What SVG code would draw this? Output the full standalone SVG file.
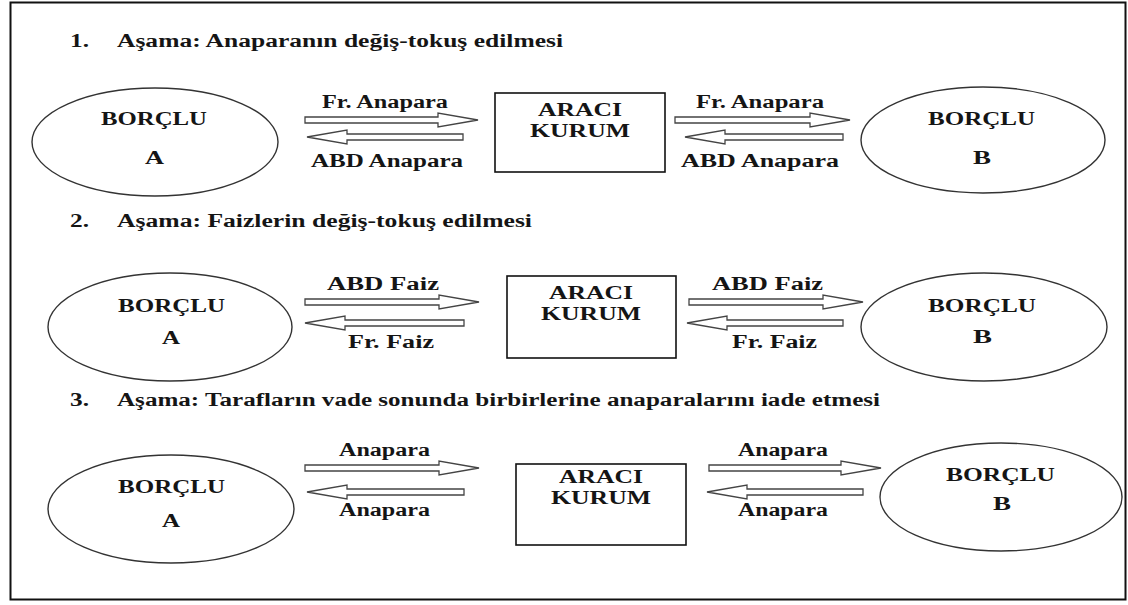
<svg xmlns="http://www.w3.org/2000/svg" width="1128" height="605" viewBox="0 0 1128 605">
<style>
text{font-family:"Liberation Serif","DejaVu Serif","Times New Roman",serif;font-weight:bold;font-size:18px;fill:#151515;}
.ell{fill:none;stroke:#333;stroke-width:1.4;}
.box{fill:none;stroke:#111;stroke-width:1.6;}
.arr{fill:#fff;stroke:#444;stroke-width:1.3;stroke-linejoin:miter;}
</style>
<rect x="0" y="0" width="1128" height="605" fill="#fff"/>
<rect x="10.5" y="2.5" width="1115" height="597" fill="none" stroke="#111" stroke-width="2"/>

<g id="titles">
<text x="70" y="47" textLength="19" lengthAdjust="spacingAndGlyphs">1.</text>
<text x="117" y="47" textLength="446" lengthAdjust="spacingAndGlyphs">Aşama: Anaparanın değiş-tokuş edilmesi</text>
<text x="70" y="227" textLength="19" lengthAdjust="spacingAndGlyphs">2.</text>
<text x="117" y="227" textLength="415" lengthAdjust="spacingAndGlyphs">Aşama: Faizlerin değiş-tokuş edilmesi</text>
<text x="70" y="406" textLength="19" lengthAdjust="spacingAndGlyphs">3.</text>
<text x="117" y="406" textLength="763" lengthAdjust="spacingAndGlyphs">Aşama: Tarafların vade sonunda birbirlerine anaparalarını iade etmesi</text>
</g>

<g id="borclu-a-1">
<ellipse class="ell" cx="155" cy="142" rx="123" ry="54"/>
<text x="101" y="125" textLength="106" lengthAdjust="spacingAndGlyphs">BORÇLU</text>
<text x="145" y="164" textLength="19" lengthAdjust="spacingAndGlyphs">A</text>
</g>
<g id="araci-1">
<rect class="box" x="495" y="93" width="170" height="79"/>
<text x="538" y="116" textLength="84" lengthAdjust="spacingAndGlyphs">ARACI</text>
<text x="530" y="137" textLength="100" lengthAdjust="spacingAndGlyphs">KURUM</text>
</g>
<g id="borclu-b-1">
<ellipse class="ell" cx="983" cy="140" rx="122" ry="53"/>
<text x="928" y="125" textLength="107" lengthAdjust="spacingAndGlyphs">BORÇLU</text>
<text x="973" y="164" textLength="18" lengthAdjust="spacingAndGlyphs">B</text>
</g>

<g id="borclu-a-2">
<ellipse class="ell" cx="170" cy="327" rx="122" ry="54"/>
<text x="118" y="312" textLength="107" lengthAdjust="spacingAndGlyphs">BORÇLU</text>
<text x="162" y="344" textLength="18" lengthAdjust="spacingAndGlyphs">A</text>
</g>
<g id="araci-2">
<rect class="box" x="507" y="276" width="169" height="82"/>
<text x="549" y="299" textLength="84" lengthAdjust="spacingAndGlyphs">ARACI</text>
<text x="541" y="320" textLength="100" lengthAdjust="spacingAndGlyphs">KURUM</text>
</g>
<g id="borclu-b-2">
<ellipse class="ell" cx="984" cy="327" rx="123" ry="54"/>
<text x="928" y="312" textLength="108" lengthAdjust="spacingAndGlyphs">BORÇLU</text>
<text x="973" y="343" textLength="19" lengthAdjust="spacingAndGlyphs">B</text>
</g>

<g id="borclu-a-3">
<ellipse class="ell" cx="171" cy="509" rx="123" ry="54"/>
<text x="118" y="493" textLength="107" lengthAdjust="spacingAndGlyphs">BORÇLU</text>
<text x="162" y="527" textLength="18" lengthAdjust="spacingAndGlyphs">A</text>
</g>
<g id="araci-3">
<rect class="box" x="516" y="464" width="170" height="81"/>
<text x="559" y="483" textLength="84" lengthAdjust="spacingAndGlyphs">ARACI</text>
<text x="551" y="504" textLength="100" lengthAdjust="spacingAndGlyphs">KURUM</text>
</g>
<g id="borclu-b-3">
<ellipse class="ell" cx="1001" cy="497" rx="121" ry="54"/>
<text x="946" y="481" textLength="109" lengthAdjust="spacingAndGlyphs">BORÇLU</text>
<text x="993" y="510" textLength="18" lengthAdjust="spacingAndGlyphs">B</text>
</g>

<g id="connectors">
<path class="arr" d="M305,117 L438,117 L438,113 L478,120 L438,127 L438,123 L305,123 Z"/>
<path class="arr" d="M463,134 L347,134 L347,130 L307,137 L347,144 L347,140 L463,140 Z"/>
<path class="arr" d="M675,117 L810,117 L810,113 L850,120 L810,127 L810,123 L675,123 Z"/>
<path class="arr" d="M843,134 L725,134 L725,130 L685,137 L725,144 L725,140 L843,140 Z"/>
<path class="arr" d="M305,299 L439,299 L439,295 L479,302 L439,309 L439,305 L305,305 Z"/>
<path class="arr" d="M464,320 L345,320 L345,316 L305,323 L345,330 L345,326 L464,326 Z"/>
<path class="arr" d="M689,299 L823,299 L823,295 L863,302 L823,309 L823,305 L689,305 Z"/>
<path class="arr" d="M843,320 L727,320 L727,316 L687,323 L727,330 L727,326 L843,326 Z"/>
<path class="arr" d="M305,465 L439,465 L439,461 L479,468 L439,475 L439,471 L305,471 Z"/>
<path class="arr" d="M464,489 L347,489 L347,485 L307,492 L347,499 L347,495 L464,495 Z"/>
<path class="arr" d="M709,465 L841,465 L841,461 L881,468 L841,475 L841,471 L709,471 Z"/>
<path class="arr" d="M863,489 L747,489 L747,485 L707,492 L747,499 L747,495 L863,495 Z"/>
<text x="322" y="108" textLength="126" lengthAdjust="spacingAndGlyphs">Fr. Anapara</text>
<text x="311" y="167" textLength="152" lengthAdjust="spacingAndGlyphs">ABD Anapara</text>
<text x="696" y="108" textLength="128" lengthAdjust="spacingAndGlyphs">Fr. Anapara</text>
<text x="681" y="167" textLength="158" lengthAdjust="spacingAndGlyphs">ABD Anapara</text>
<text x="327" y="290" textLength="112" lengthAdjust="spacingAndGlyphs">ABD Faiz</text>
<text x="348" y="348" textLength="86" lengthAdjust="spacingAndGlyphs">Fr. Faiz</text>
<text x="712" y="290" textLength="111" lengthAdjust="spacingAndGlyphs">ABD Faiz</text>
<text x="732" y="348" textLength="85" lengthAdjust="spacingAndGlyphs">Fr. Faiz</text>
<text x="339" y="456" textLength="91" lengthAdjust="spacingAndGlyphs">Anapara</text>
<text x="339" y="516" textLength="91" lengthAdjust="spacingAndGlyphs">Anapara</text>
<text x="738" y="456" textLength="90" lengthAdjust="spacingAndGlyphs">Anapara</text>
<text x="738" y="516" textLength="90" lengthAdjust="spacingAndGlyphs">Anapara</text>
</g>
</svg>
